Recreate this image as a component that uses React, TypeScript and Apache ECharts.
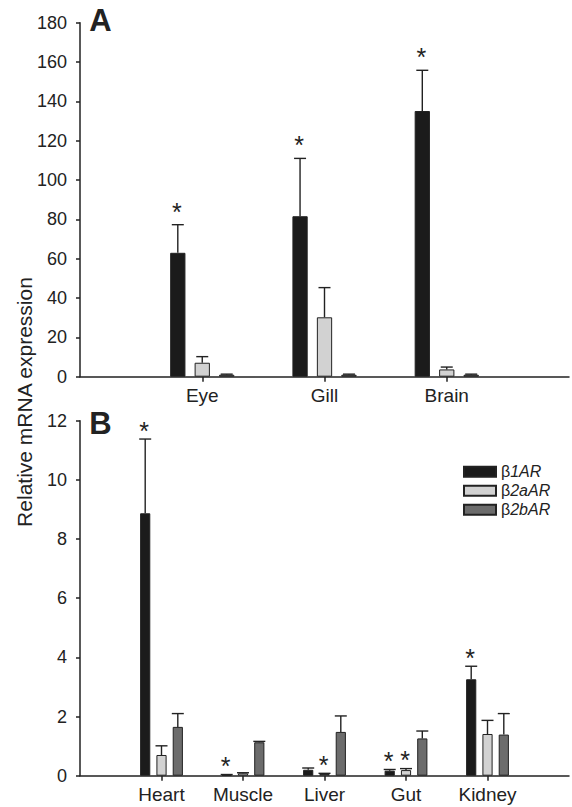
import React, { useEffect, useRef } from "react";
import * as echarts from "echarts";

// Panel A
const catsA = ["Eye", "Gill", "Brain"];
const b1A = [63.0, 81.6, 135.1];
const b1AErr = [77.3, 111.0, 155.8];
const b2aA = [7.1, 30.2, 3.7];
const b2aAErr = [10.2, 45.3, 4.9];
const b2bA = [1.0, 1.0, 1.0];
const b2bAErr = [1.3, 1.3, 1.3];
const starsA = [
  [1, 1, 1],
  [0, 0, 0],
  [0, 0, 0],
];

// Panel B
const catsB = ["Heart", "Muscle", "Liver", "Gut", "Kidney"];
const b1B = [8.87, 0.03, 0.2, 0.17, 3.26];
const b1BErr = [11.38, 0.04, 0.26, 0.21, 3.7];
const b2aB = [0.7, 0.08, 0.06, 0.19, 1.41];
const b2aBErr = [1.01, 0.1, 0.08, 0.24, 1.87];
const b2bB = [1.65, 1.13, 1.48, 1.26, 1.39];
const b2bBErr = [2.1, 1.16, 2.02, 1.51, 2.1];
const starsB = [
  [1, 1, 0, 1, 1],
  [0, 0, 1, 1, 0],
  [0, 0, 0, 0, 0],
];

const seriesNames = ["β1AR", "β2aAR", "β2bAR"];
const colors = ["#1b1b1b", "#d2d2d2", "#6c6c6c"];
const FONT = "'Liberation Sans', Arial, Helvetica, sans-serif";
const INK = "#222";

function pad(arr: (number | string)[]) {
  return ["-", ...arr, "-"];
}

export default function App() {
  const ref = useRef<HTMLDivElement>(null);
  useEffect(() => {
    if (!ref.current) return;
    const chart = echarts.init(ref.current, undefined, { renderer: "svg" });

    const panels = [
      { cats: catsA, vals: [b1A, b2aA, b2bA], errs: [b1AErr, b2aAErr, b2bAErr], stars: starsA, starOff: 13 },
      { cats: catsB, vals: [b1B, b2aB, b2bB], errs: [b1BErr, b2aBErr, b2bBErr], stars: starsB, starOff: 8.5 },
    ];

    const series: any[] = [];
    panels.forEach((p, pi) => {
      for (let s = 0; s < 3; s++) {
        series.push({
          type: "bar",
          name: seriesNames[s],
          xAxisIndex: pi,
          yAxisIndex: pi,
          data: pad(p.vals[s]),
          barWidth: "12.5%",
          barGap: "60%",
          itemStyle: { color: colors[s], borderColor: INK, borderWidth: 1 },
          z: 2,
        });
      }
      for (let s = 0; s < 3; s++) {
        const data = p.cats.map((_, i) => [i + 1, p.errs[s][i], p.vals[s][i], p.stars[s][i]]);
        const offIdx = s - 1;
        const starOff = p.starOff;
        series.push({
          type: "custom",
          name: "err" + pi + s,
          xAxisIndex: pi,
          yAxisIndex: pi,
          z: 3,
          encode: { x: 0, y: 1 },
          data,
          renderItem: (params: any, api: any) => {
            const cat = api.value(0);
            const top = api.value(1);
            const val = api.value(2);
            const star = api.value(3);
            const band = api.size([1, 0])[0];
            const base = api.coord([cat, val]);
            const tp = api.coord([cat, top]);
            const x = base[0] + offIdx * 0.2 * band;
            const children: any[] = [
              {
                type: "line",
                shape: { x1: x, y1: base[1], x2: x, y2: tp[1] },
                style: { stroke: INK, lineWidth: 1.4 },
              },
              {
                type: "line",
                shape: { x1: x - 6, y1: tp[1], x2: x + 6, y2: tp[1] },
                style: { stroke: INK, lineWidth: 1.4 },
              },
            ];
            if (star) {
              children.push({
                type: "text",
                x: x - 1,
                y: tp[1] - starOff,
                style: {
                  text: "*",
                  fontSize: 25,
                  fontFamily: FONT,
                  fill: INK,
                  align: "center",
                  verticalAlign: "middle",
                },
              });
            }
            return { type: "group", children };
          },
        });
      }
    });

    const xAxisCommon = (cats: string[], gi: number) => ({
      type: "category",
      gridIndex: gi,
      data: ["", ...cats, ""],
      boundaryGap: false,
      axisLine: { show: true, lineStyle: { color: INK, width: 1.5 } },
      axisTick: {
        show: true,
        length: 5,
        interval: (i: number, v: string) => v !== "",
        lineStyle: { color: INK, width: 1.5 },
      },
      axisLabel: { interval: 0, margin: 9, fontSize: 19, color: INK, fontFamily: FONT },
      splitLine: { show: false },
    });
    const yAxisCommon = (gi: number, max: number, interval: number) => ({
      type: "value",
      gridIndex: gi,
      min: 0,
      max,
      interval,
      axisLine: { show: true, lineStyle: { color: INK, width: 1.5 } },
      axisTick: { show: true, length: 4, lineStyle: { color: INK, width: 1.5 } },
      axisLabel: { margin: 13, fontSize: 18, color: INK, fontFamily: FONT },
      splitLine: { show: false },
    });

    chart.setOption({
      animation: false,
      backgroundColor: "#fff",
      textStyle: { fontFamily: FONT },
      grid: [
        { left: 80, top: 22.7, width: 492, height: 354 },
        { left: 80, top: 420.7, width: 492, height: 355 },
      ],
      xAxis: [xAxisCommon(catsA, 0), xAxisCommon(catsB, 1)],
      yAxis: [yAxisCommon(0, 180, 20), yAxisCommon(1, 12, 2)],
      legend: {
        data: seriesNames,
        orient: "vertical",
        left: 458,
        top: 457.7,
        itemWidth: 32,
        itemHeight: 10,
        itemGap: 1,
        icon: "rect",
        formatter: (name: string) => "{u|β}{i|" + name.slice(1) + "}",
        textStyle: {
          color: INK,
          lineHeight: 18,
          rich: {
            u: { fontSize: 16, fontFamily: FONT, color: INK, lineHeight: 18 },
            i: { fontSize: 16, fontStyle: "italic", fontFamily: FONT, color: INK, lineHeight: 18 },
          },
        },
        selectedMode: false,
      },
      graphic: [
        {
          type: "text",
          x: 100.5,
          y: 20.5,
          style: { text: "A", fontSize: 31, fontWeight: "bold", fontFamily: FONT, fill: INK, align: "center", verticalAlign: "middle" },
        },
        {
          type: "text",
          x: 100.5,
          y: 423,
          style: { text: "B", fontSize: 31, fontWeight: "bold", fontFamily: FONT, fill: INK, align: "center", verticalAlign: "middle" },
        },
        {
          type: "text",
          x: 24,
          y: 402,
          rotation: Math.PI / 2,
          style: { text: "Relative mRNA expression", fontSize: 21, fontFamily: FONT, fill: INK, align: "center", verticalAlign: "middle" },
        },
      ],
      series,
    });
    return () => chart.dispose();
  }, []);
  return <div ref={ref} style={{ position: "fixed", left: 0, top: 0, width: 572, height: 807 }} />;
}
